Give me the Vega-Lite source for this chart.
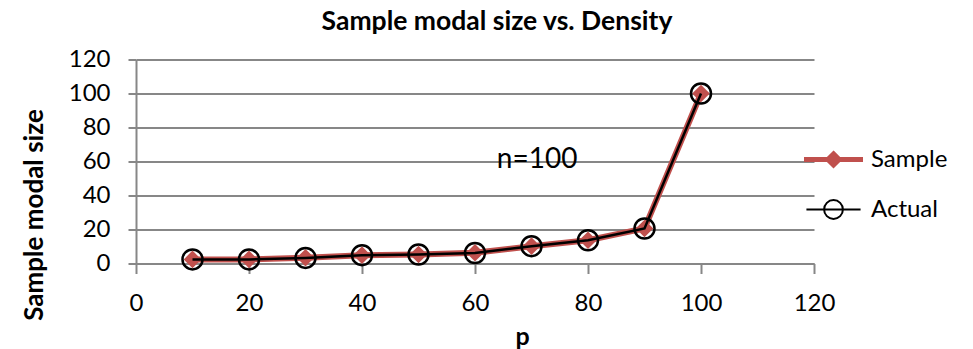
{
  "$schema": "https://vega.github.io/schema/vega-lite/v6.json",
  "autosize": {"type": "none"},
  "padding": {"left": 136, "top": 59.5, "right": 159, "bottom": 85.5},
  "width": 678,
  "height": 204,
  "background": "white",
  "title": {
    "text": "Sample modal size vs. Density",
    "font": "Lato",
    "fontSize": 26.5,
    "fontWeight": "bold",
    "color": "black",
    "anchor": "middle",
    "frame": "group",
    "dx": 22,
    "offset": 12
  },
  "config": {
    "view": {"stroke": null},
    "font": "Lato"
  },
  "datasets": {
    "series": [
      {"p": 10, "size": 2.4, "series": "Sample"},
      {"p": 20, "size": 2.4, "series": "Sample"},
      {"p": 30, "size": 3.4, "series": "Sample"},
      {"p": 40, "size": 4.9, "series": "Sample"},
      {"p": 50, "size": 5.3, "series": "Sample"},
      {"p": 60, "size": 6.3, "series": "Sample"},
      {"p": 70, "size": 10.2, "series": "Sample"},
      {"p": 80, "size": 13.7, "series": "Sample"},
      {"p": 90, "size": 20.6, "series": "Sample"},
      {"p": 100, "size": 100, "series": "Sample"},
      {"p": 10, "size": 2.4, "series": "Actual"},
      {"p": 20, "size": 2.4, "series": "Actual"},
      {"p": 30, "size": 3.3, "series": "Actual"},
      {"p": 40, "size": 4.9, "series": "Actual"},
      {"p": 50, "size": 5.3, "series": "Actual"},
      {"p": 60, "size": 6.2, "series": "Actual"},
      {"p": 70, "size": 10.2, "series": "Actual"},
      {"p": 80, "size": 13.7, "series": "Actual"},
      {"p": 90, "size": 20.6, "series": "Actual"},
      {"p": 100, "size": 100, "series": "Actual"}
    ],
    "note": [
      {"p": 71, "size": 61, "label": "n=100"}
    ]
  },
  "encoding": {
    "x": {
      "field": "p",
      "type": "quantitative",
      "scale": {"domain": [0, 120], "nice": false},
      "axis": {
        "values": [0, 20, 40, 60, 80, 100, 120],
        "title": "p",
        "titleFont": "Lato",
        "titleFontSize": 25,
        "titleFontWeight": "bold",
        "titleColor": "black",
        "titleX": 386,
        "titleY": 81,
        "titleBaseline": "alphabetic",
        "grid": false,
        "domainColor": "#878787",
        "domainWidth": 2,
        "tickColor": "#878787",
        "tickWidth": 2,
        "tickSize": 10,
        "labelFont": "Lato",
        "labelFontSize": 24,
        "labelColor": "black",
        "labelPadding": 18,
        "labelFlush": false
      }
    },
    "y": {
      "field": "size",
      "type": "quantitative",
      "scale": {"domain": [0, 120], "nice": false},
      "axis": {
        "values": [0, 20, 40, 60, 80, 100, 120],
        "title": "Sample modal size",
        "titleFont": "Lato",
        "titleFontSize": 26,
        "titleFontWeight": "bold",
        "titleColor": "black",
        "titleX": -94,
        "titleY": 155,
        "titleAngle": -90,
        "titleAlign": "center",
        "titleBaseline": "alphabetic",
        "grid": true,
        "gridColor": "#878787",
        "gridWidth": 2,
        "domainColor": "#878787",
        "domainWidth": 2,
        "tickColor": "#878787",
        "tickWidth": 2,
        "tickSize": 8,
        "labelFont": "Lato",
        "labelFontSize": 24,
        "labelColor": "black",
        "labelPadding": 18,
        "labelFlush": false
      }
    }
  },
  "layer": [
    {
      "data": {"name": "series"},
      "transform": [{"filter": "datum.series === 'Sample'"}],
      "mark": {"type": "line", "color": "#C0504D", "strokeWidth": 6}
    },
    {
      "data": {"name": "series"},
      "transform": [{"filter": "datum.series === 'Sample'"}],
      "mark": {"type": "point", "shape": "diamond", "filled": true, "color": "#C0504D", "size": 310, "opacity": 1}
    },
    {
      "data": {"name": "series"},
      "transform": [{"filter": "datum.series === 'Actual'"}],
      "mark": {"type": "line", "color": "black", "strokeWidth": 2.5}
    },
    {
      "data": {"name": "series"},
      "transform": [{"filter": "datum.series === 'Actual'"}],
      "mark": {"type": "point", "shape": "circle", "filled": false, "color": "black", "strokeWidth": 2.5, "size": 400, "opacity": 1}
    },
    {
      "data": {"name": "series"},
      "transform": [{"filter": "datum.p > 1000"}],
      "mark": {"type": "point", "size": 3249, "opacity": 1, "strokeWidth": 2},
      "encoding": {
        "shape": {
          "field": "series",
          "type": "nominal",
          "scale": {"domain": ["Sample", "Actual"], "range": ["M-1,-0.05H1V0.05H-1Z M0,-0.27L0.27,0L0,0.27L-0.27,0Z", "M-0.95,0H0.95 M0.33,0A0.33,0.33 0 1,1 -0.33,0A0.33,0.33 0 1,1 0.33,0"]},
          "legend": {
            "title": null,
            "orient": "none",
            "legendX": 668,
            "legendY": 75,
            "labelFont": "Lato",
            "labelFontSize": 24,
            "labelColor": "black",
            "labelOffset": 8,
            "rowPadding": 0,
            "clipHeight": 50,
            "symbolSize": 3249,
            "symbolStrokeWidth": 2,
            "symbolOpacity": 1
          }
        },
        "fill": {
          "field": "series",
          "type": "nominal",
          "scale": {"domain": ["Sample", "Actual"], "range": ["#C0504D", "transparent"]}
        },
        "stroke": {
          "field": "series",
          "type": "nominal",
          "scale": {"domain": ["Sample", "Actual"], "range": ["#C0504D", "black"]}
        }
      }
    },
    {
      "data": {"name": "note"},
      "mark": {"type": "text", "font": "Lato", "fontSize": 28, "color": "black", "align": "center", "baseline": "middle"},
      "encoding": {"text": {"field": "label"}}
    }
  ]
}
